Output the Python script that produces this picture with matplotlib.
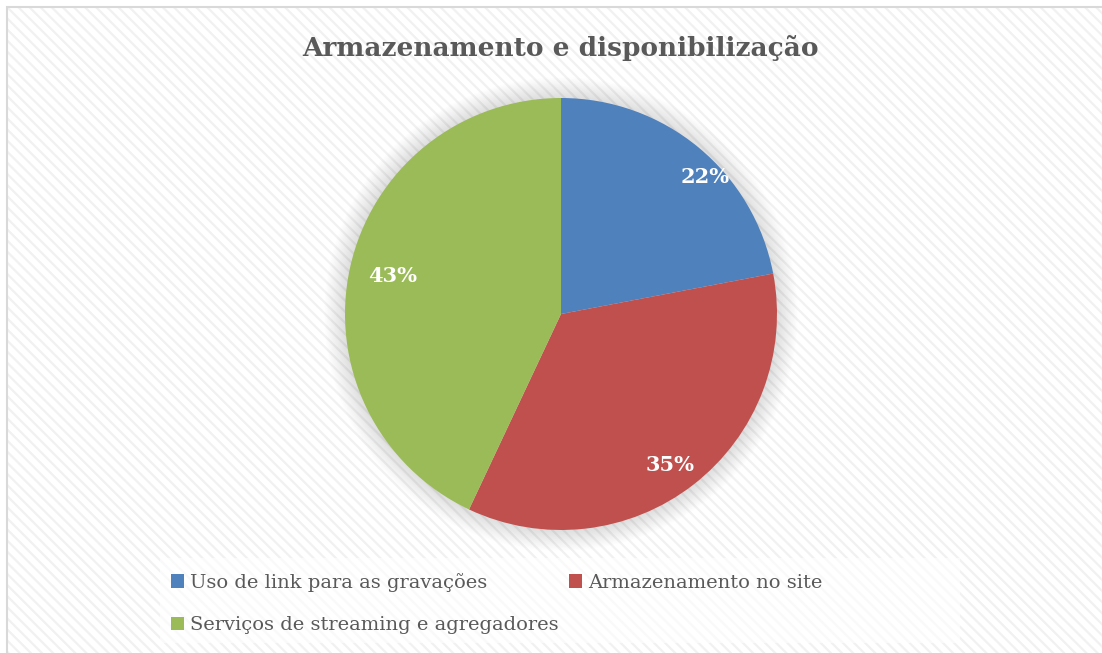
import matplotlib
matplotlib.use("Agg")
import matplotlib.pyplot as plt
from matplotlib.patches import Rectangle, Patch, Circle
import numpy as np

title = "Armazenamento e disponibilização"
categories = ["Uso de link para as gravações", "Armazenamento no site",
              "Serviços de streaming e agregadores"]
values = [22, 35, 43]
colors = ["#4F81BD", "#C0504D", "#9BBB59"]
# label placement (radial distance, angle offset in degrees) - style only
label_dist = [0.92, 0.86, 0.80]
label_rot = [-7, -2, 0]

W, H = 1102, 653
plt.rcParams['hatch.linewidth'] = 1.6
fig = plt.figure(figsize=(W / 100, H / 100), dpi=100)
fig.patch.set_facecolor('white')

# background chart area with hatch
bg = Rectangle((7 / W, -0.01), 1.02, 1 - 7 / H + 0.01, transform=fig.transFigure,
               facecolor='white', edgecolor='#f1f1f1', linewidth=0,
               hatch='\\\\\\', zorder=-3)
fig.patches.append(bg)
border = Rectangle((7 / W, -0.01), 1.02, 1 - 7 / H + 0.01, transform=fig.transFigure,
                   facecolor='none', edgecolor='#d9d9d9', linewidth=1.5, zorder=-2)
fig.patches.append(border)

cx, cy, r = 561, 314, 216
ax = fig.add_axes([(cx - r) / W, (H - cy - r) / H, 2 * r / W, 2 * r / H])
ax.axis('off')

# soft shadow glow
for i in range(16):
    rr = 1.0 + 0.006 * (16 - i)
    ax.add_patch(Circle((0.0, 0.0), rr, facecolor='#000000', alpha=0.008,
                        edgecolor='none', clip_on=False, zorder=1))

wedges, _ = ax.pie(values, colors=colors, startangle=90, counterclock=False,
                   radius=1.0, wedgeprops=dict(linewidth=0, zorder=2))
ax.set_xlim(-1, 1)
ax.set_ylim(-1, 1)
ax.set_aspect('equal')
for w in wedges:
    w.set_clip_on(False)
    w.set_zorder(3)

total = sum(values)
for w, v, d, rot in zip(wedges, values, label_dist, label_rot):
    mid = np.deg2rad((w.theta1 + w.theta2) / 2 + rot)
    ax.text(d * np.cos(mid), d * np.sin(mid), f"{round(100 * v / total)}%",
            ha='center', va='center', color='white', fontsize=15,
            fontweight='bold', family='DejaVu Serif', zorder=5)

fig.text(cx / W, 1 - 48 / H, title, ha='center', va='center', fontsize=19,
         fontweight='bold', family='DejaVu Serif', color='#595959')

# legend background
lg_bg = Rectangle((160 / W, 1 - 643 / H), 800 / W, 85 / H, transform=fig.transFigure,
                  facecolor='white', alpha=0.6, edgecolor='none', zorder=-1)
fig.patches.append(lg_bg)

handles = [Patch(facecolor=c, edgecolor='none') for c in colors]
order = [0, 2, 1]
leg = fig.legend([handles[i] for i in order], [categories[i] for i in order],
                 ncol=2, loc='upper left', bbox_to_anchor=(163 / W, 1 - 565 / H),
                 frameon=False, prop={'family': 'DejaVu Serif', 'size': 14},
                 handlelength=0.7, handleheight=0.7, handletextpad=0.3,
                 columnspacing=0.5, labelspacing=1.27, borderaxespad=0,
                 labelcolor='#595959')

fig.savefig("out.png", dpi=100, facecolor='white')
